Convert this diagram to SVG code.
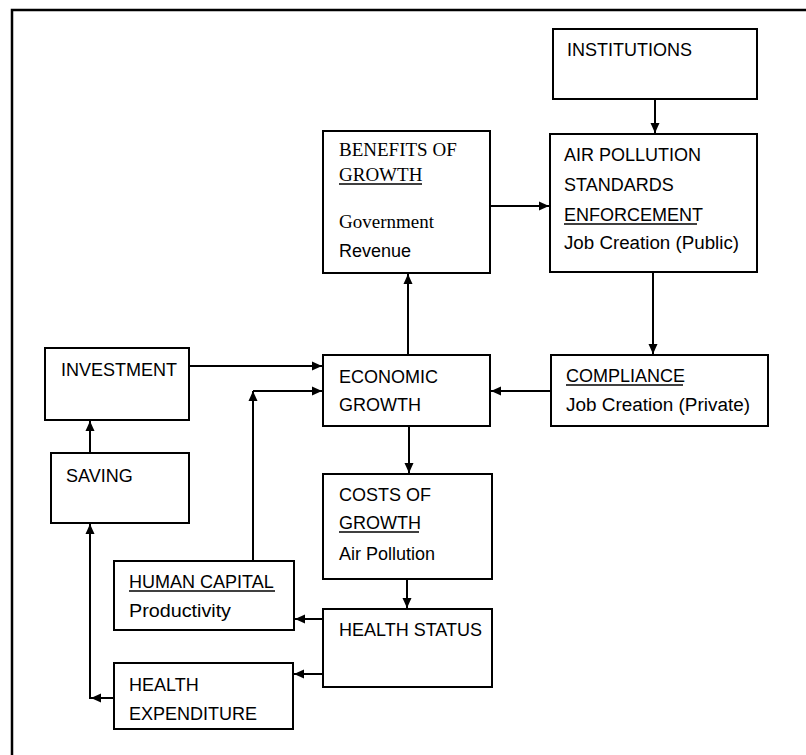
<svg xmlns="http://www.w3.org/2000/svg" width="806" height="755" viewBox="0 0 806 755">
<defs>
<style>
.box{fill:#fff;stroke:#000;stroke-width:2}
.t{font-family:"Liberation Sans",Arial,sans-serif;font-size:18px;fill:#000}
.s{font-family:"Liberation Serif","Times New Roman",serif;font-size:19px;fill:#000}
.u{stroke:#000;stroke-width:1.3}
.c{fill:none;stroke:#000;stroke-width:2}
</style>
<marker id="ah" markerUnits="userSpaceOnUse" markerWidth="11" markerHeight="10" refX="10" refY="5" orient="auto">
<path d="M0,0.5 L10,5 L0,9.5 z" fill="#000"/>
</marker>
</defs>
<rect width="806" height="755" fill="#fff"/>
<path d="M12,760 V10 H810" fill="none" stroke="#000" stroke-width="2.5"/>

<g id="institutions">
<rect class="box" x="553" y="29" width="204" height="70"/>
<text class="t" x="567" y="56">INSTITUTIONS</text>
</g>
<g id="air-pollution-standards">
<rect class="box" x="550" y="134" width="207" height="138"/>
<text class="t" x="564" y="161">AIR POLLUTION</text>
<text class="t" x="564" y="191">STANDARDS</text>
<text class="t" x="564" y="221">ENFORCEMENT</text>
<line class="u" x1="564" y1="224" x2="697" y2="224"/>
<text class="t" x="564" y="249" textLength="175" lengthAdjust="spacingAndGlyphs">Job Creation (Public)</text>
</g>
<g id="benefits-of-growth">
<rect class="box" x="323" y="131" width="167" height="142"/>
<text class="s" x="339" y="156">BENEFITS OF</text>
<text class="s" x="339" y="181">GROWTH</text>
<line class="u" x1="339" y1="184" x2="422" y2="184"/>
<text class="s" x="339" y="228">Government</text>
<text class="t" x="339" y="257">Revenue</text>
</g>
<g id="economic-growth">
<rect class="box" x="323" y="355" width="167" height="71"/>
<text class="t" x="339" y="383">ECONOMIC</text>
<text class="t" x="339" y="411">GROWTH</text>
</g>
<g id="compliance">
<rect class="box" x="551" y="355" width="217" height="71"/>
<text class="t" x="566" y="382">COMPLIANCE</text>
<line class="u" x1="566" y1="385" x2="683" y2="385"/>
<text class="t" x="566" y="411" textLength="184" lengthAdjust="spacingAndGlyphs">Job Creation (Private)</text>
</g>
<g id="investment">
<rect class="box" x="45" y="348" width="144" height="72"/>
<text class="t" x="61" y="376">INVESTMENT</text>
</g>
<g id="saving">
<rect class="box" x="51" y="453" width="138" height="70"/>
<text class="t" x="66" y="482">SAVING</text>
</g>
<g id="costs-of-growth">
<rect class="box" x="323" y="474" width="169" height="105"/>
<text class="t" x="339" y="501">COSTS OF</text>
<text class="t" x="339" y="529">GROWTH</text>
<line class="u" x1="339" y1="532" x2="419" y2="532"/>
<text class="t" x="339" y="560">Air Pollution</text>
</g>
<g id="health-status">
<rect class="box" x="323" y="609" width="169" height="78"/>
<text class="t" x="339" y="636">HEALTH STATUS</text>
</g>
<g id="human-capital">
<rect class="box" x="114" y="561" width="180" height="69"/>
<text class="t" x="129" y="588">HUMAN CAPITAL</text>
<line class="u" x1="129" y1="591" x2="275" y2="591"/>
<text class="t" x="129" y="617" textLength="102" lengthAdjust="spacingAndGlyphs">Productivity</text>
</g>
<g id="health-expenditure">
<rect class="box" x="114" y="663" width="179" height="66"/>
<text class="t" x="129" y="691">HEALTH</text>
<text class="t" x="129" y="720">EXPENDITURE</text>
</g>

<g id="connectors">
<path class="c" d="M655,99 V133" marker-end="url(#ah)"/>
<path class="c" d="M491,206 H549" marker-end="url(#ah)"/>
<path class="c" d="M408,354 V274" marker-end="url(#ah)"/>
<path class="c" d="M653,272 V354" marker-end="url(#ah)"/>
<path class="c" d="M551,391 H491" marker-end="url(#ah)"/>
<path class="c" d="M190,366 H322" marker-end="url(#ah)"/>
<path class="c" d="M253,561 V391" marker-end="url(#ah)"/>
<path class="c" d="M253,391 H322" marker-end="url(#ah)"/>
<path class="c" d="M90,453 V421" marker-end="url(#ah)"/>
<path class="c" d="M409,426 V473" marker-end="url(#ah)"/>
<path class="c" d="M407,579 V608" marker-end="url(#ah)"/>
<path class="c" d="M323,619 H295" marker-end="url(#ah)"/>
<path class="c" d="M323,674 H294" marker-end="url(#ah)"/>
<path class="c" d="M113,698 H91" marker-end="url(#ah)"/>
<path class="c" d="M90,699 V524" marker-end="url(#ah)"/>
</g>
</svg>
